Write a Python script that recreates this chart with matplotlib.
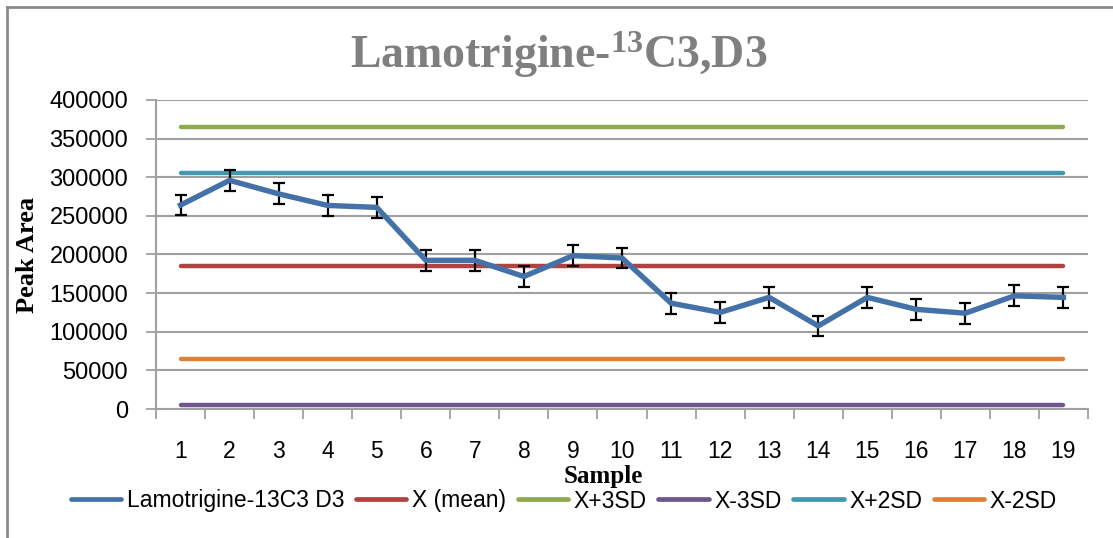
import matplotlib
matplotlib.use('Agg')
import matplotlib.pyplot as plt
from matplotlib.lines import Line2D
import numpy as np

samples = list(range(1, 20))
peak_area = [264000, 296000, 278500, 263500, 261000, 192500, 192500, 171500, 198500, 195500,
             137000, 125000, 144500, 107500, 144500, 129000, 124000, 146500, 144500]
errors = [13500] * 19
mean_val = 185000
sd_val = 60000
series_name = 'Lamotrigine-13C3 D3'
series_color = '#4472A8'

ref_lines = [
    ('X (mean)', mean_val, '#B0433F'),
    ('X+3SD', mean_val + 3 * sd_val, '#8DAA4D'),
    ('X-3SD', mean_val - 3 * sd_val, '#6E568F'),
    ('X+2SD', mean_val + 2 * sd_val, '#4298B0'),
    ('X-2SD', mean_val - 2 * sd_val, '#DE8038'),
]

plt.rcParams['font.family'] = ['Liberation Sans', 'DejaVu Sans']
plt.rcParams['mathtext.fontset'] = 'custom'
plt.rcParams['mathtext.bf'] = 'Liberation Serif:bold'
plt.rcParams['mathtext.rm'] = 'Liberation Serif'

fig = plt.figure(figsize=(11.13, 5.38), dpi=100)
ax = fig.add_axes([156/1113, 1-409/538, (1088-156)/1113, (409-100)/538])

grid_c = '#A0A0A0'
ax.errorbar(samples, peak_area, yerr=errors, color=series_color, lw=3.9, ecolor='black',
            elinewidth=1.6, capsize=4, capthick=1.6, zorder=4)
for name, val, c in ref_lines:
    ax.plot(samples, [val] * len(samples), color=c, lw=3.2, solid_capstyle='round', zorder=3)

ax.set_xlim(0.5, 19.5)
ax.set_ylim(0, 400000)
ax.set_yticks(np.arange(0, 400001, 50000))
ax.set_xticks(samples)
ax.set_xticks(np.arange(0.5, 20, 1), minor=True)
ax.tick_params(axis='x', which='major', length=0, pad=22, labelsize=16.5)
ax.tick_params(axis='x', which='minor', length=7, width=1.3, color=grid_c, direction='out')
ax.tick_params(axis='y', length=7, width=1.3, color=grid_c, pad=13, labelsize=17)
ax.yaxis.grid(True, color=grid_c, lw=1.5)
ax.set_axisbelow(True)
for s in ['top', 'right']:
    ax.spines[s].set_visible(False)
for s in ['left', 'bottom']:
    ax.spines[s].set_color(grid_c)
    ax.spines[s].set_linewidth(1.5)

fig.text(559/1113, 1-55/538, r'Lamotrigine-$\mathbf{^{13}}$C3,D3', ha='center', va='center',
         fontsize=33, fontweight='bold', family='Liberation Serif', color='#7F7F7F')
fig.text(603/1113, 1-477/538, 'Sample', ha='center', va='center', fontsize=18,
         fontweight='bold', family='Liberation Serif')
fig.text(27/1113, 1-255/538, 'Peak Area', ha='center', va='center', rotation=90,
         fontsize=19, fontweight='bold', family='Liberation Serif')

labels = [series_name] + [r[0] for r in ref_lines]
colors = [series_color] + [r[2] for r in ref_lines]
handles = [Line2D([], [], color=c, lw=3.4, solid_capstyle='round') for c in colors]
fig.legend(handles, labels, loc='center', bbox_to_anchor=(564/1113, 1-501/538), ncol=6,
           frameon=False, fontsize=16.5, handlelength=2.2, handletextpad=0.25, columnspacing=0.5)

fig.add_artist(Line2D([7/1113, 7/1113], [-0.1, 1-7/538], color='#8C8C8C', lw=2))
fig.add_artist(Line2D([7/1113, 1.1], [1-7/538, 1-7/538], color='#8C8C8C', lw=2))

fig.savefig('out.png', dpi=100)
